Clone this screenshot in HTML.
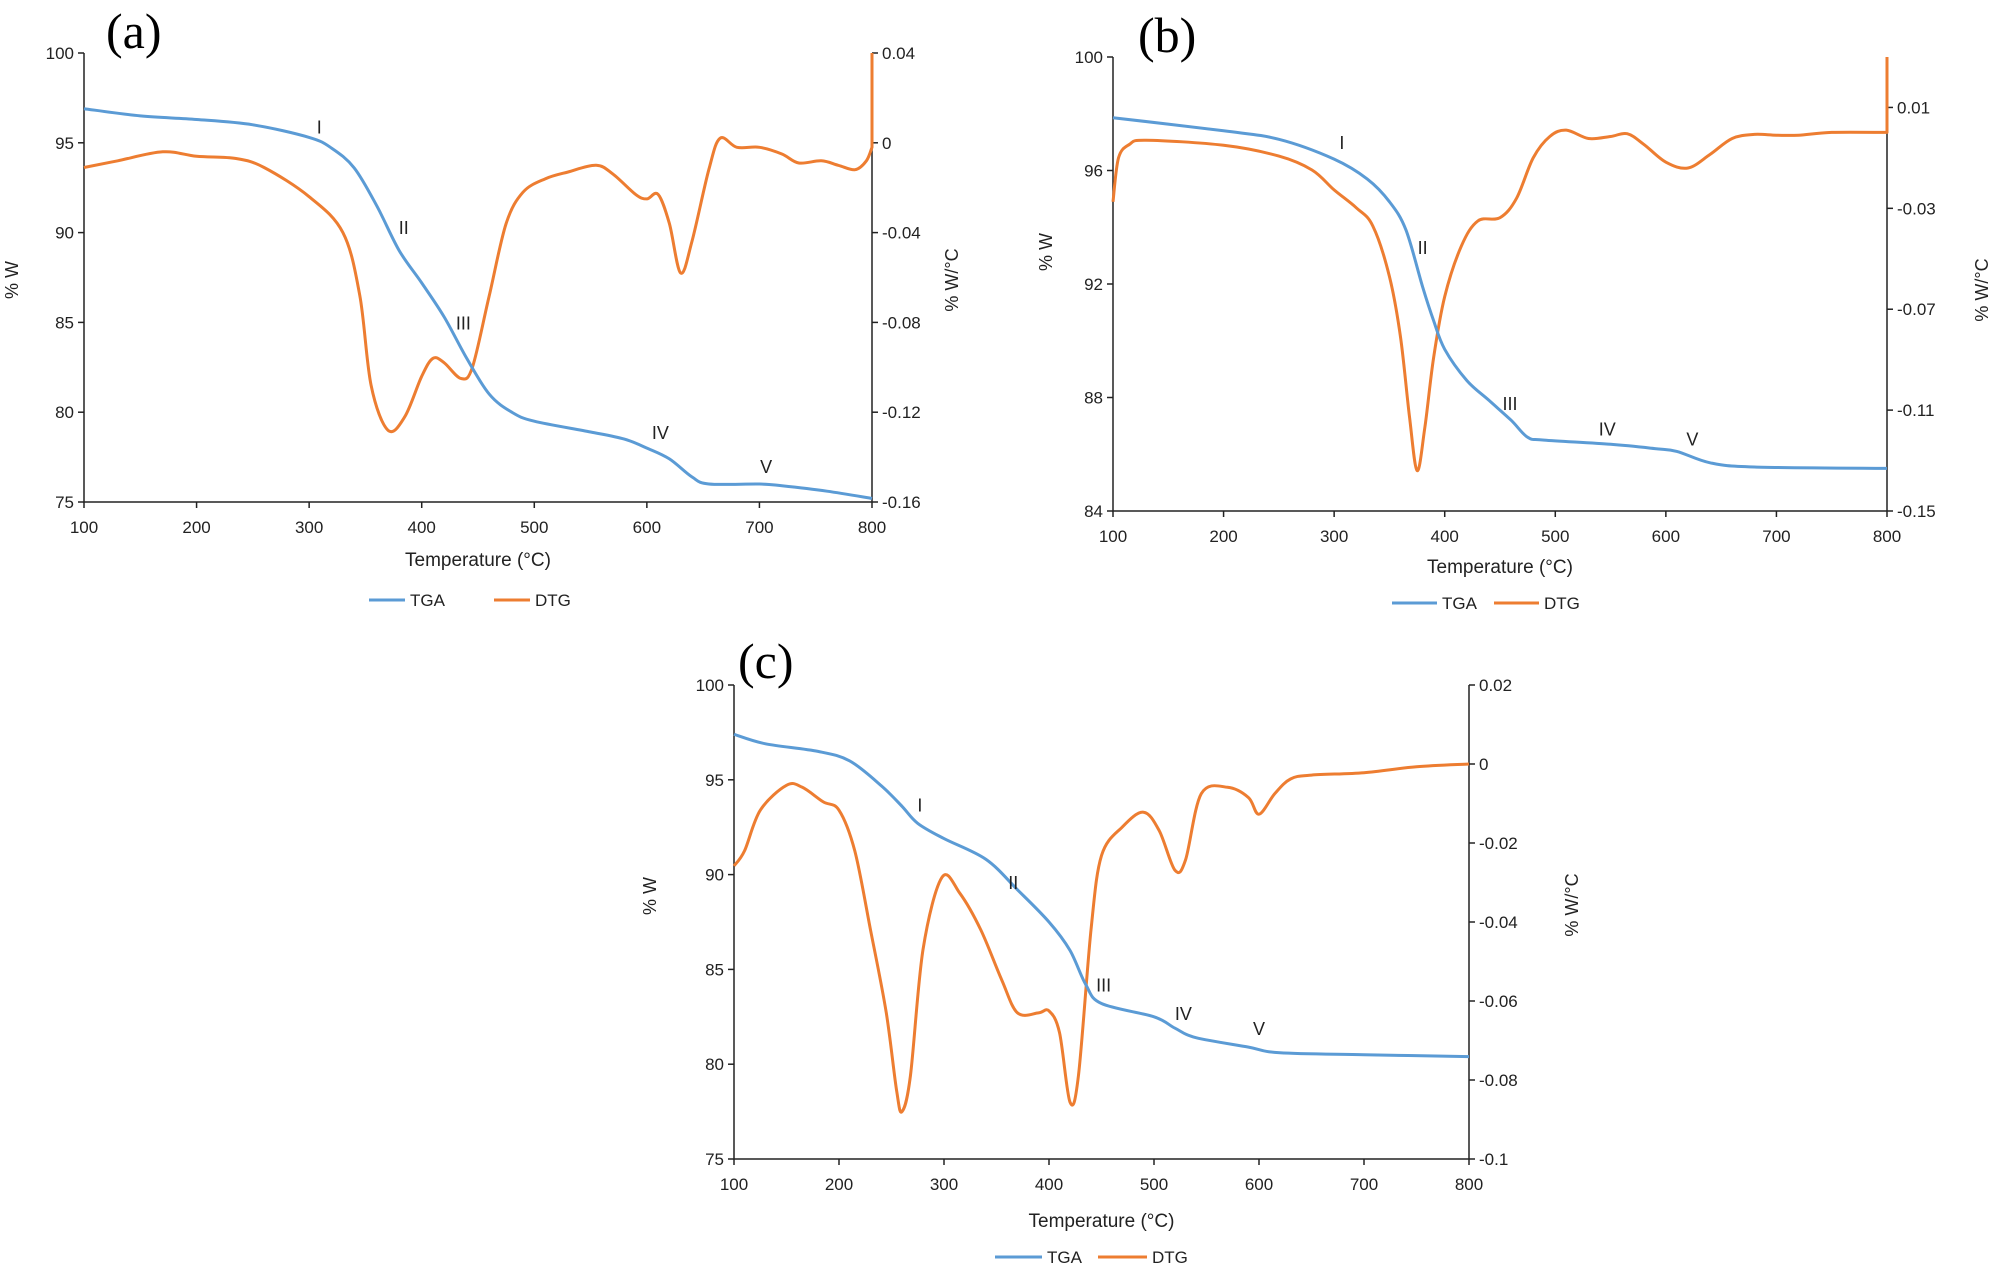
<!DOCTYPE html>
<html><head><meta charset="utf-8"><style>
html,body{margin:0;padding:0;background:#fff;}
svg{display:block;font-family:"Liberation Sans",Arial,sans-serif;}
</style></head><body>
<svg id="fig" width="1998" height="1268" viewBox="0 0 1998 1268" xmlns="http://www.w3.org/2000/svg"></svg>
<script>
// ---------- Panel (a) data ----------
const tempA_tga=[100,150,200,250,300,320,340,360,380,400,420,440,460,480,500,550,580,600,620,640,655,700,720,760,800];
const tgaA=[96.9,96.5,96.3,96.0,95.3,94.7,93.6,91.5,89.0,87.2,85.3,83.0,81.0,80.0,79.5,78.9,78.5,78.0,77.4,76.4,76.0,76.0,75.9,75.6,75.2];
const tempA_dtg=[100,130,170,200,235,260,300,330,345,355,370,385,400,410,420,435,445,460,475,490,510,530,555,570,590,600,610,620,630,640,655,665,680,700,720,735,755,770,785,795,800];
const dtgA=[-0.011,-0.008,-0.004,-0.006,-0.007,-0.011,-0.024,-0.040,-0.068,-0.108,-0.128,-0.122,-0.104,-0.096,-0.098,-0.105,-0.100,-0.068,-0.036,-0.022,-0.016,-0.013,-0.010,-0.014,-0.023,-0.025,-0.023,-0.036,-0.058,-0.044,-0.012,0.002,-0.002,-0.002,-0.005,-0.009,-0.008,-0.010,-0.012,-0.008,-0.002];
const dtgEndA=0.04;
const leftTicksA=[75,80,85,90,95,100];
const rightTicksA=[-0.16,-0.12,-0.08,-0.04,0,0.04];
const rightLabelsA=["-0.16","-0.12","-0.08","-0.04","0","0.04"];
const stageLabelsA=["I","II","III","IV","V"];
const stageXA=[309,384,437,612,706];
const stageYA=[95.9,90.3,85.0,78.9,77.0];

// ---------- Panel (b) data ----------
const tempB_tga=[100,200,250,300,330,350,365,380,390,400,420,440,460,475,490,550,590,610,640,680,800];
const tgaB=[97.86,97.4,97.1,96.4,95.7,94.9,93.9,91.9,90.7,89.7,88.6,87.9,87.2,86.6,86.5,86.35,86.2,86.1,85.7,85.55,85.5];
const tempB_dtg=[100,105,115,130,200,250,280,300,320,335,350,360,368,375,382,390,400,415,430,450,465,480,495,510,530,550,565,580,600,620,640,660,680,700,720,750,798];
const dtgB=[-0.0274,-0.010,-0.0046,-0.003,-0.005,-0.0093,-0.0148,-0.0227,-0.0298,-0.037,-0.057,-0.081,-0.112,-0.134,-0.117,-0.089,-0.065,-0.045,-0.035,-0.0337,-0.026,-0.010,-0.0015,0.001,-0.0023,-0.0015,-0.0004,-0.0046,-0.0117,-0.014,-0.0086,-0.0023,-0.0007,-0.001,-0.001,0.0001,0.0001];
const dtgEndB=0.03;
const leftTicksB=[84,88,92,96,100];
const rightTicksB=[-0.15,-0.11,-0.07,-0.03,0.01];
const rightLabelsB=["-0.15","-0.11","-0.07","-0.03","0.01"];
const stageLabelsB=["I","II","III","IV","V"];
const stageXB=[307,380,459,547,624];
const stageYB=[97.0,93.3,87.8,86.9,86.55];

// ---------- Panel (c) data ----------
const tempC_tga=[100,130,180,210,240,260,275,300,340,370,400,420,435,450,500,520,540,590,620,700,800];
const tgaC=[97.4,96.9,96.5,96.0,94.7,93.6,92.7,91.9,90.8,89.2,87.5,86.0,84.2,83.2,82.5,81.9,81.4,80.9,80.6,80.5,80.4];
const tempC_dtg=[100,110,125,150,165,185,200,215,230,245,255,260,268,280,298,315,335,355,370,390,400,410,420,428,440,450,470,490,505,520,530,545,570,590,600,615,630,650,700,750,800];
const dtgC=[-0.0258,-0.022,-0.0117,-0.0054,-0.0059,-0.0096,-0.0117,-0.022,-0.042,-0.063,-0.083,-0.088,-0.079,-0.047,-0.0287,-0.0327,-0.042,-0.0547,-0.063,-0.063,-0.0625,-0.068,-0.0856,-0.079,-0.042,-0.0232,-0.0159,-0.0122,-0.0169,-0.0269,-0.0243,-0.0075,-0.0059,-0.0085,-0.0127,-0.0075,-0.0038,-0.0028,-0.0022,-0.0007,0.0];
const dtgEndC=null;
const leftTicksC=[75,80,85,90,95,100];
const rightTicksC=[-0.1,-0.08,-0.06,-0.04,-0.02,0,0.02];
const rightLabelsC=["-0.1","-0.08","-0.06","-0.04","-0.02","0","0.02"];
const stageLabelsC=["I","II","III","IV","V"];
const stageXC=[277,366,452,528,600];
const stageYC=[93.7,89.6,84.2,82.7,81.9];

const xTicks=[100,200,300,400,500,600,700,800];

const NS="http://www.w3.org/2000/svg";
const fig=document.getElementById('fig');
function mk(tag,attrs,parent){const e=document.createElementNS(NS,tag);for(const k in attrs)e.setAttribute(k,attrs[k]);(parent||fig).appendChild(e);return e;}
function smooth(pts){
  if(pts.length<2)return '';
  let d='M'+pts[0][0].toFixed(1)+','+pts[0][1].toFixed(1);
  for(let i=0;i<pts.length-1;i++){
    const p0=pts[Math.max(0,i-1)],p1=pts[i],p2=pts[i+1],p3=pts[Math.min(pts.length-1,i+2)];
    const c1x=p1[0]+(p2[0]-p0[0])/6,c1y=p1[1]+(p2[1]-p0[1])/6;
    const c2x=p2[0]-(p3[0]-p1[0])/6,c2y=p2[1]-(p3[1]-p1[1])/6;
    d+='C'+c1x.toFixed(1)+','+c1y.toFixed(1)+' '+c2x.toFixed(1)+','+c2y.toFixed(1)+' '+p2[0].toFixed(1)+','+p2[1].toFixed(1);
  }
  return d;
}
function panel(cfg){
  const g=mk('g',{});
  
  
  const {L,R,T,B}=cfg;
  const xs=v=>L+(v-100)/700*(R-L);
  const yl=v=>B-(v-cfg.lMin)/(cfg.lMax-cfg.lMin)*(B-T);
  const yr=v=>B-(v-cfg.rMin)/(cfg.rMax-cfg.rMin)*(B-T);
  const pl=mk('text',{x:cfg.letterX,y:cfg.letterY,'font-family':'"Liberation Serif",serif','font-size':50,fill:'#000'},g);
  pl.textContent='('+cfg.id+')';
  
  
  const ax=mk('path',{d:`M${L},${T}V${B}H${R}`,stroke:'#222',fill:'none','stroke-width':1.5},g);
  
  
  const rax=mk('line',{x1:R,y1:T,x2:R,y2:B,stroke:'#222','stroke-width':1.5},g);
  
  
  xTicks.forEach(v=>{
    const x=xs(v);
    mk('line',{x1:x,y1:B,x2:x,y2:B+6,stroke:'#222','stroke-width':1.5},g);
    const t=mk('text',{x:x,y:B+31,'font-size':17,'text-anchor':'middle',fill:'#222'},g);
    t.textContent=v;
    
    
  });
  cfg.lt.forEach(v=>{
    const y=yl(v);
    mk('line',{x1:L-6,y1:y,x2:L,y2:y,stroke:'#222','stroke-width':1.5},g);
    const t=mk('text',{x:L-10,y:y+6,'font-size':17,'text-anchor':'end',fill:'#222'},g);
    t.textContent=v;
    
    
  });
  cfg.rt.forEach((v,i)=>{
    const y=yr(v);
    mk('line',{x1:R,y1:y,x2:R+6,y2:y,stroke:'#222','stroke-width':1.5},g);
    const t=mk('text',{x:R+10,y:y+6,'font-size':17,'text-anchor':'start',fill:'#222'},g);
    t.textContent=cfg.rl[i];
    
    
  });
  const xt=mk('text',{x:(L+R)/2,y:cfg.xTitleY,'font-size':19,'text-anchor':'middle',fill:'#222'},g);
  xt.textContent='Temperature (°C)';
  
  
  const lt=mk('text',{x:cfg.lTitleX,y:cfg.lTitleY,'font-size':18,'text-anchor':'middle',fill:'#222',transform:`rotate(-90 ${cfg.lTitleX} ${cfg.lTitleY})`},g);
  lt.textContent='% W';
  
  
  const rtt=mk('text',{x:cfg.rTitleX,y:cfg.rTitleY,'font-size':18,'text-anchor':'middle',fill:'#222',transform:`rotate(-90 ${cfg.rTitleX} ${cfg.rTitleY})`},g);
  rtt.textContent='% W/°C';
  
  
  const dp=cfg.dtgT.map((t,i)=>[xs(t),yr(cfg.dtg[i])]);
  let dd=smooth(dp);
  if(cfg.dtgEnd!==null){dd+=`L${xs(800).toFixed(1)},${dp[dp.length-1][1].toFixed(1)}L${xs(800).toFixed(1)},${yr(cfg.dtgEnd).toFixed(1)}`;}
  const dl=mk('path',{d:dd,stroke:'#ED7D31',fill:'none','stroke-width':3,'stroke-linejoin':'round'},g);
  
  
  const tp=cfg.tgaT.map((t,i)=>[xs(t),yl(cfg.tga[i])]);
  const tl=mk('path',{d:smooth(tp),stroke:'#5B9BD5',fill:'none','stroke-width':3,'stroke-linejoin':'round'},g);
  
  
  cfg.sl.forEach((s,i)=>{
    const t=mk('text',{x:xs(cfg.sx[i]),y:yl(cfg.sy[i])+7,'font-size':18,'text-anchor':'middle',fill:'#222'},g);
    t.textContent=s;
    
    
  });
  const lg=mk('g',{},g);
  
  
  const ly=cfg.legY;
  const e1=mk('line',{x1:cfg.leg[0],y1:ly,x2:cfg.leg[1],y2:ly,stroke:'#5B9BD5','stroke-width':3},lg);
  
  
  const t1=mk('text',{x:cfg.leg[1]+5,y:ly+6,'font-size':17,fill:'#222'},lg);
  t1.textContent='TGA';
  
  
  const e2=mk('line',{x1:cfg.leg[2],y1:ly,x2:cfg.leg[3],y2:ly,stroke:'#ED7D31','stroke-width':3},lg);
  
  
  const t2=mk('text',{x:cfg.leg[3]+5,y:ly+6,'font-size':17,fill:'#222'},lg);
  t2.textContent='DTG';
  
  
}
panel({id:'a',L:84,R:872,T:53,B:502,lMin:75,lMax:100,rMin:-0.16,rMax:0.04,
  lt:leftTicksA,rt:rightTicksA,rl:rightLabelsA,tgaT:tempA_tga,tga:tgaA,dtgT:tempA_dtg,dtg:dtgA,dtgEnd:dtgEndA,
  sl:stageLabelsA,sx:stageXA,sy:stageYA,letterX:106,letterY:48,xTitleY:566,lTitleX:18,lTitleY:280,rTitleX:958,rTitleY:280,
  legY:600,leg:[369,405,494,530]});
panel({id:'b',L:1113,R:1887,T:57,B:511,lMin:84,lMax:100,rMin:-0.15,rMax:0.03,
  lt:leftTicksB,rt:rightTicksB,rl:rightLabelsB,tgaT:tempB_tga,tga:tgaB,dtgT:tempB_dtg,dtg:dtgB,dtgEnd:dtgEndB,
  sl:stageLabelsB,sx:stageXB,sy:stageYB,letterX:1138,letterY:52,xTitleY:573,lTitleX:1052,lTitleY:252,rTitleX:1988,rTitleY:290,
  legY:603,leg:[1392,1437,1494,1539]});
panel({id:'c',L:734,R:1469,T:685,B:1159,lMin:75,lMax:100,rMin:-0.1,rMax:0.02,
  lt:leftTicksC,rt:rightTicksC,rl:rightLabelsC,tgaT:tempC_tga,tga:tgaC,dtgT:tempC_dtg,dtg:dtgC,dtgEnd:dtgEndC,
  sl:stageLabelsC,sx:stageXC,sy:stageYC,letterX:738,letterY:678,xTitleY:1227,lTitleX:656,lTitleY:896,rTitleX:1578,rTitleY:905,
  legY:1257,leg:[995,1042,1098,1147]});
</script>
</body></html>
